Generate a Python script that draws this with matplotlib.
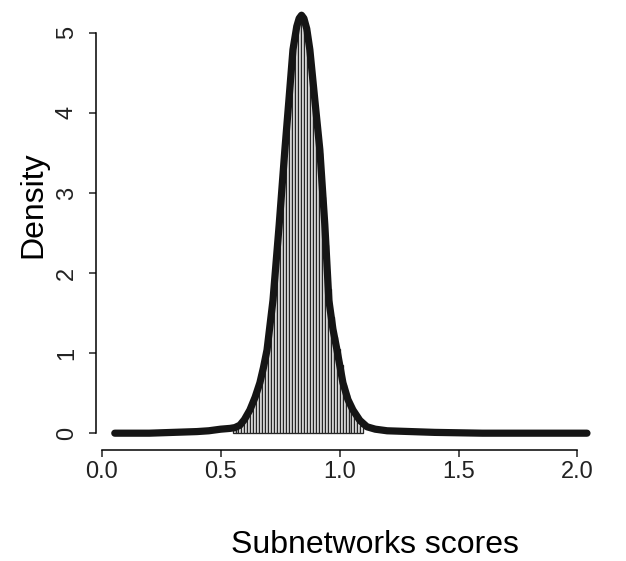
import numpy as np
import matplotlib
matplotlib.use("Agg")
import matplotlib.pyplot as plt

# histogram bins (left edges), width and density heights
bin_width = 0.0125
bin_left = [0.55 + i * bin_width for i in range(44)]
bin_height = [0.04, 0.06, 0.08, 0.13, 0.20, 0.27, 0.35, 0.45, 0.55, 0.68,
              0.85, 1.02, 1.30, 1.63, 2.05, 2.50, 2.98, 3.50, 3.95, 4.40,
              4.85, 5.05, 5.15, 5.15, 5.00, 4.85, 4.60, 4.20, 3.85, 3.50,
              2.95, 2.35, 1.80, 1.45, 1.20, 1.05, 0.85, 0.60, 0.48, 0.37,
              0.28, 0.20, 0.14, 0.09]

# density curve points
curve_x = [0.055, 0.20, 0.30, 0.40, 0.45, 0.50, 0.54, 0.56, 0.581, 0.60,
           0.623, 0.645, 0.665, 0.68, 0.695, 0.72, 0.746, 0.77, 0.787, 0.804,
           0.82, 0.83, 0.84, 0.85, 0.862, 0.875, 0.896, 0.917, 0.938, 0.955,
           0.972, 0.989, 1.014, 1.035, 1.056, 1.085, 1.115, 1.15, 1.20, 1.30,
           1.40, 1.60, 1.80, 2.04]
curve_y = [0.0, 0.0, 0.01, 0.02, 0.03, 0.05, 0.06, 0.07, 0.10, 0.17,
           0.29, 0.45, 0.63, 0.82, 1.04, 1.66, 2.60, 3.54, 4.16, 4.79,
           5.08, 5.18, 5.22, 5.18, 5.05, 4.79, 4.16, 3.54, 2.60, 1.66,
           1.30, 1.04, 0.63, 0.42, 0.29, 0.16, 0.08, 0.05, 0.03, 0.02,
           0.01, 0.0, 0.0, 0.0]

x_ticks = [0.0, 0.5, 1.0, 1.5, 2.0]
x_ticklabels = ["0.0", "0.5", "1.0", "1.5", "2.0"]
y_ticks = [0, 1, 2, 3, 4, 5]

plt.rcParams["font.family"] = ["Liberation Sans", "DejaVu Sans"]

fig = plt.figure(figsize=(6.26, 5.61), dpi=100)
ax = fig.add_axes([96 / 626, 111 / 561, 510 / 626, 450 / 561])

ax.bar(bin_left, bin_height, width=bin_width, align="edge",
       facecolor="#f4f4f4", edgecolor="#262626", linewidth=0.95, zorder=1)
ax.plot(curve_x, curve_y, color="#151515", linewidth=5.2,
        solid_capstyle="round", solid_joinstyle="round", zorder=2)

ax.set_xlim(-0.024, 2.12)
ax.set_ylim(-0.21, 5.41)

for side in ["top", "right"]:
    ax.spines[side].set_visible(False)
ax.spines["left"].set_bounds(0, 5)
ax.spines["bottom"].set_bounds(0, 2)
ax.spines["left"].set_linewidth(1.1)
ax.spines["bottom"].set_linewidth(1.1)

ax.set_xticks(x_ticks)
ax.set_xticklabels(x_ticklabels)
ax.set_yticks(y_ticks)
ax.set_yticklabels([str(v) for v in y_ticks], rotation=90, va="center")
ax.tick_params(axis="both", direction="out", length=5, width=1.1,
               labelsize=17, colors="#222222")
ax.tick_params(axis="x", pad=3)
ax.tick_params(axis="y", pad=8)

ax.set_xlabel("Subnetworks scores", fontsize=23, va="center")
ax.set_ylabel("Density", fontsize=23, va="center")
ax.xaxis.set_label_coords((375 - 96) / 510, -95 / 450)
ax.yaxis.set_label_coords(-(96 - 33) / 510, (450 - 205) / 450)

fig.savefig("out.png", dpi=100)
